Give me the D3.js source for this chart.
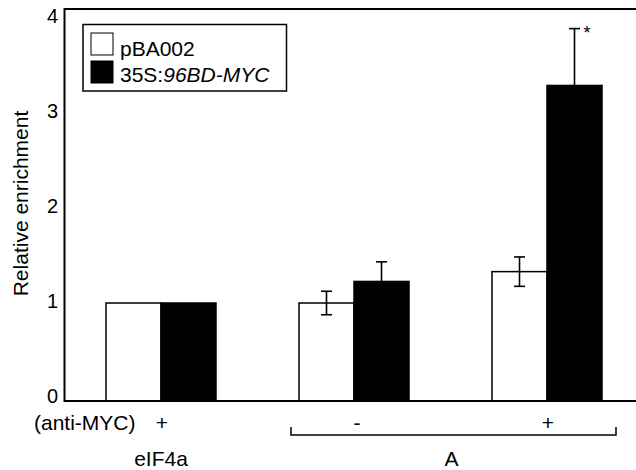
<!DOCTYPE html>
<html>
<head>
<meta charset="utf-8">
<script src="https://cdn.jsdelivr.net/npm/d3@7"></script>
<style>
  body { margin: 0; background: #fff; }
  text { font-family: "Liberation Sans", Arial, sans-serif; fill: #000; }
</style>
</head>
<body>
<div id="chart"></div>
<script>
// data
var groups = ["eIF4a", "A-", "A+"];
var series = ["pBA002", "35S:96BD-MYC"];
var pba002 = [1.0, 1.0, 1.32];
var pba002Err = [0, 0.12, 0.15];
var mycVals = [1.0, 1.22, 3.22];
var mycErr = [0, 0.2, 0.58];
var treatment = ["+", "-", "+"];
var geneLabels = ["eIF4a", "A"];
var yTicks = [0, 1, 2, 3, 4];

var svgWidth = 636;
var svgHeight = 470;

var svg = d3.select("#chart")
  .append("svg")
  .attr("width", svgWidth)
  .attr("height", svgHeight);

// scales
var x = d3.scaleBand()
  .domain(groups)
  .range([64.5, 643.5])
  .padding(0);

var xSub = d3.scaleBand()
  .domain(series)
  .range([41.5, 151.5])
  .padding(0);

var y = d3.scaleLinear()
  .domain([0, 4])
  .range([401, 9]);

// tick labels sit a bit inside the axis range in the original
var yLab = d3.scaleLinear()
  .domain([0, 4])
  .range([396, 16]);

var rows = groups.map(function(g, i) {
  return [
    { group: g, key: series[0], value: pba002[i], err: pba002Err[i], fill: "#fff" },
    { group: g, key: series[1], value: mycVals[i], err: mycErr[i], fill: "#000" }
  ];
});
var bars = d3.merge(rows);

// bars
svg.append("g").selectAll("rect")
  .data(bars)
  .enter()
  .append("rect")
  .attr("x", d => x(d.group) + xSub(d.key))
  .attr("y", d => y(d.value))
  .attr("width", xSub.bandwidth())
  .attr("height", d => y(0) - y(d.value))
  .attr("fill", d => d.fill)
  .attr("stroke", "#000")
  .attr("stroke-width", 1.5);

// error bars
var errGroup = svg.append("g")
  .attr("stroke", "#000")
  .attr("stroke-width", 1.6);

var withErr = bars.filter(d => d.err > 0);
var cx = d => x(d.group) + xSub(d.key) + xSub.bandwidth() / 2;

errGroup.selectAll(".stem")
  .data(withErr)
  .enter()
  .append("line")
  .attr("x1", cx)
  .attr("x2", cx)
  .attr("y1", d => y(d.value - d.err))
  .attr("y2", d => y(d.value + d.err));

errGroup.selectAll(".capTop")
  .data(withErr)
  .enter()
  .append("line")
  .attr("x1", d => cx(d) - 5.5)
  .attr("x2", d => cx(d) + 5.5)
  .attr("y1", d => y(d.value + d.err))
  .attr("y2", d => y(d.value + d.err));

errGroup.selectAll(".capBottom")
  .data(withErr)
  .enter()
  .append("line")
  .attr("x1", d => cx(d) - 5.5)
  .attr("x2", d => cx(d) + 5.5)
  .attr("y1", d => y(d.value - d.err))
  .attr("y2", d => y(d.value - d.err));

// significance star on the highest bar
var starBar = bars[5];
svg.append("text")
  .attr("x", cx(starBar) + 9)
  .attr("y", y(starBar.value + starBar.err) + 10)
  .style("font-size", "18px")
  .text("*");

// axis frame: left, top and baseline
svg.append("path")
  .attr("d", `M${svgWidth},${y(4)}H${x.range()[0]}V${y(0)}H${svgWidth}`)
  .attr("fill", "none")
  .attr("stroke", "#000")
  .attr("stroke-width", 2);

// y tick labels (no tick marks)
var leftAxis = d3.axisLeft(yLab)
  .tickValues(yTicks)
  .tickFormat(d3.format("d"))
  .tickSize(0)
  .tickPadding(0);

var yAxis = svg.append("g")
  .attr("transform", "translate(58,0)")
  .call(leftAxis);
yAxis.select(".domain").remove();
yAxis.selectAll("text")
  .style("font-size", "20px")
  .style("font-family", "'Liberation Sans', Arial, sans-serif");

// y axis title
svg.append("text")
  .attr("transform", `translate(28, ${(110 + 297) / 2}) rotate(-90)`)
  .attr("text-anchor", "middle")
  .style("font-size", "21px")
  .text("Relative enrichment");

// treatment row
svg.append("text")
  .attr("x", 34)
  .attr("y", 430)
  .style("font-size", "21px")
  .text("(anti-MYC)");

svg.append("g").selectAll("text")
  .data(groups)
  .enter()
  .append("text")
  .attr("x", (d, i) => x(d) + x.bandwidth() / 2 + (treatment[i] === "-" ? 3 : 1))
  .attr("y", 430)
  .attr("text-anchor", "middle")
  .style("font-size", "21px")
  .text((d, i) => treatment[i]);

// bracket under the A groups
var bx0 = x("A-") + xSub(series[0]) - 8;
var bx1 = x("A+") + xSub(series[1]) + xSub.bandwidth() + 14;
svg.append("path")
  .attr("d", `M${bx0},427V435H${bx1}V427`)
  .attr("fill", "none")
  .attr("stroke", "#000")
  .attr("stroke-width", 1.5);

// gene labels
svg.append("text")
  .attr("x", x("eIF4a") + x.bandwidth() / 2)
  .attr("y", 466)
  .attr("text-anchor", "middle")
  .style("font-size", "21px")
  .text(geneLabels[0]);

svg.append("text")
  .attr("x", (bx0 + bx1) / 2 - 2)
  .attr("y", 466)
  .attr("text-anchor", "middle")
  .style("font-size", "21px")
  .text(geneLabels[1]);

// legend
var legend = svg.append("g");
legend.append("rect")
  .attr("x", 83)
  .attr("y", 24.5)
  .attr("width", 203.5)
  .attr("height", 66.5)
  .attr("fill", "#fff")
  .attr("stroke", "#000")
  .attr("stroke-width", 1.5);

var fills = ["#fff", "#000"];
series.forEach(function(s, i) {
  legend.append("rect")
    .attr("x", 91)
    .attr("y", 33 + i * 28)
    .attr("width", 22)
    .attr("height", 22)
    .attr("fill", fills[i])
    .attr("stroke", "#000")
    .attr("stroke-width", 1);
});

legend.append("text")
  .attr("x", 120)
  .attr("y", 55.5)
  .style("font-size", "21px")
  .text(series[0]);

var lt = legend.append("text")
  .attr("x", 120)
  .attr("y", 81.5)
  .style("font-size", "21px");
lt.append("tspan").text("35S:");
lt.append("tspan").style("font-style", "italic").text("96BD-MYC");
</script>
</body>
</html>
